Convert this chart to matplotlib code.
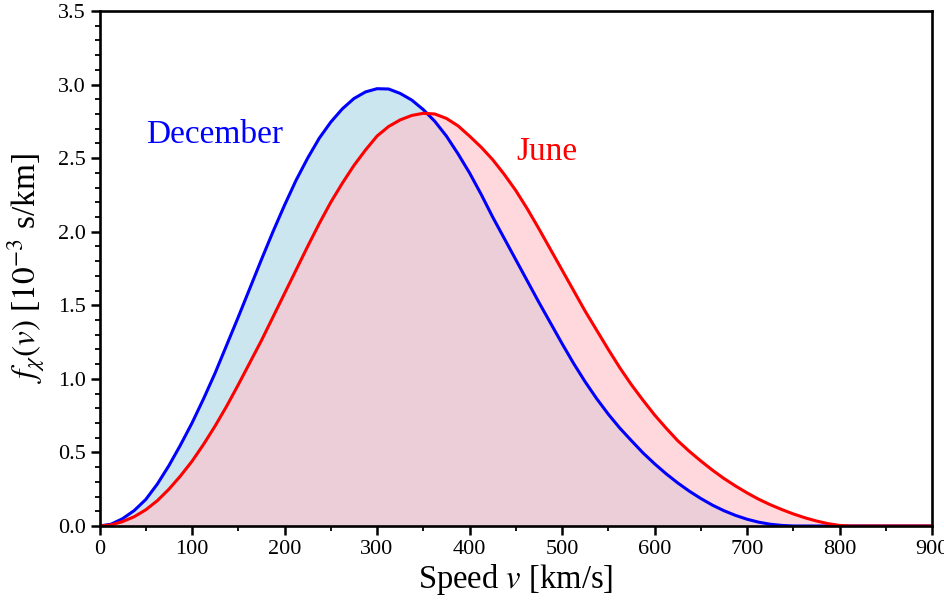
import numpy as np
import matplotlib
matplotlib.use("Agg")
import matplotlib.pyplot as plt
from matplotlib.ticker import MultipleLocator

# speed grid [km/s], 12.5 km/s steps
speed = np.arange(0, 912.5, 12.5)

# distributions [1e-3 s/km]
december = [
    0.0, 0.012, 0.05, 0.105, 0.18, 0.285, 0.41, 0.55, 0.70, 0.865,
    1.04, 1.23, 1.42, 1.615, 1.81, 2.00, 2.18, 2.35, 2.50, 2.635,
    2.745, 2.835, 2.905, 2.95, 2.972, 2.97, 2.94, 2.895, 2.83, 2.75,
    2.65, 2.53, 2.40, 2.255, 2.10, 1.955, 1.81, 1.665, 1.52, 1.38,
    1.24, 1.105, 0.98, 0.865, 0.76, 0.665, 0.58, 0.497, 0.423, 0.355,
    0.293, 0.237, 0.187, 0.142, 0.104, 0.072, 0.046, 0.026, 0.012, 0.004,
    0.0, 0.0, 0.0, 0.0, 0.0, 0.0, 0.0, 0.0, 0.0, 0.0,
    0.0, 0.0, 0.0,
]
june = [
    0.0, 0.007, 0.03, 0.063, 0.11, 0.172, 0.25, 0.34, 0.44, 0.555,
    0.68, 0.815, 0.96, 1.11, 1.26, 1.42, 1.58, 1.74, 1.90, 2.055,
    2.20, 2.33, 2.45, 2.555, 2.65, 2.715, 2.76, 2.79, 2.805, 2.80,
    2.77, 2.72, 2.65, 2.575, 2.49, 2.39, 2.28, 2.155, 2.02, 1.88,
    1.74, 1.60, 1.46, 1.33, 1.20, 1.075, 0.96, 0.855, 0.755, 0.665,
    0.58, 0.508, 0.442, 0.38, 0.323, 0.272, 0.225, 0.182, 0.145, 0.112,
    0.082, 0.056, 0.034, 0.016, 0.004, 0.0, 0.0, 0.0, 0.0, 0.0,
    0.0, 0.0, 0.0,
]

plt.rcParams["font.family"] = ["Liberation Serif", "DejaVu Serif"]
plt.rcParams["mathtext.fontset"] = "stix"

fig = plt.figure(figsize=(9.45, 6.05), dpi=100)
ax = fig.add_axes([0.1053, 0.1306, 0.881, 0.8512])

ax.fill_between(speed, december, color="lightblue", alpha=0.62, lw=0)
ax.fill_between(speed, june, color="pink", alpha=0.62, lw=0)
ax.plot(speed, december, color="blue", lw=2.2)
ax.plot(speed, june, color="red", lw=2.2)

ax.text(50, 2.6, "December", color="blue", fontsize=24, va="baseline")
ax.text(451, 2.49, "June", color="red", fontsize=24, va="baseline")

ax.set_xlim(0, 900)
ax.set_ylim(0, 3.5)
ax.xaxis.set_major_locator(MultipleLocator(100))
ax.xaxis.set_minor_locator(MultipleLocator(50))
ax.yaxis.set_major_locator(MultipleLocator(0.5))
ax.yaxis.set_minor_locator(MultipleLocator(0.1))
ax.tick_params(which="major", direction="out", length=6.5, width=1.8,
               labelsize=16, top=False, right=False)
ax.tick_params(which="minor", direction="out", length=3.5, width=1.3,
               top=False, right=False)
for s in ax.spines.values():
    s.set_linewidth(1.9)

ax.set_xlabel(r"Speed $v$ [km/s]", fontsize=23.5, labelpad=2)
ax.set_ylabel(r"$f_\chi(v)$ [$10^{-3}$ s/km]", fontsize=24, labelpad=7)

fig.savefig("out.png", dpi=100)
